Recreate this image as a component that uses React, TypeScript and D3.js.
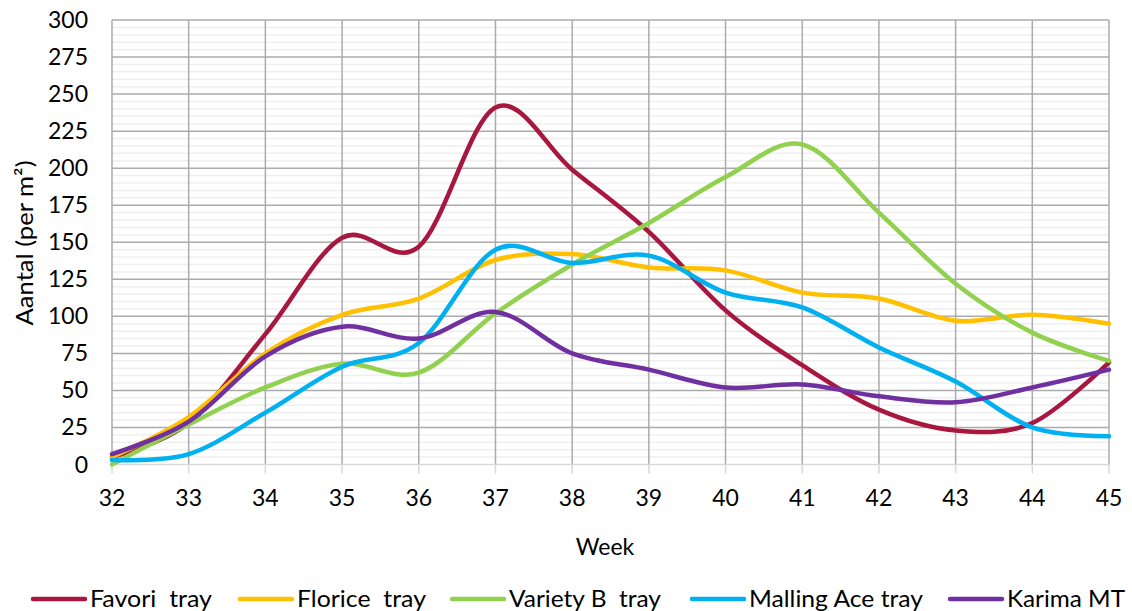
import React from "react";
import * as d3 from "d3";

const weeks = [32, 33, 34, 35, 36, 37, 38, 39, 40, 41, 42, 43, 44, 45];
const favori = [5, 28, 88, 153, 147, 241, 199, 157, 104, 67, 37, 23, 28, 69];
const florice = [5, 32, 75, 101, 112, 138, 142, 133, 131, 116, 112, 97, 101, 95];
const varietyB = [0, 27, 52, 68, 62, 102, 135, 163, 194, 216, 170, 122, 89, 70];
const mallingAce = [3, 7, 35, 66, 82, 145, 136, 141, 116, 106, 79, 56, 25, 19];
const karima = [7, 29, 73, 93, 85, 103, 75, 64, 52, 54, 46, 42, 52, 64];
const yTicks = [0, 25, 50, 75, 100, 125, 150, 175, 200, 225, 250, 275, 300];

const seriesNames = ["Favori  tray", "Florice  tray", "Variety B  tray", "Malling Ace tray", "Karima MT"];
const seriesColors = ["#A8173F", "#FFC000", "#92D050", "#00B0F0", "#7030A0"];
const seriesValues = [favori, florice, varietyB, mallingAce, karima];

const W = 1132;
const H = 611;
const FONT = "Lato, 'Open Sans', sans-serif";

export default function App() {
  const x = d3.scaleLinear().domain([32, 45]).range([112, 1109]);
  const y = d3.scaleLinear().domain([0, 300]).range([464.5, 20]);
  const minor = d3.range(0, 301, 5).filter((v) => v % 25 !== 0);

  const line = d3
    .line<number>()
    .x((_, i) => x(weeks[i]))
    .y((d) => y(d))
    .curve(d3.curveCardinal.tension(0));

  const legendLineX = [31, 238, 450, 690, 948];
  const legendTextW = [122, 129, 152, 174, 118];

  return (
    <svg width={W} height={H} style={{ position: "absolute", left: 0, top: 0, background: "#fff" }}>
      <rect x={0} y={0} width={W} height={H} fill="#fff" />
      {minor.map((v) => (
        <line key={"m" + v} x1={x(32)} x2={x(45)} y1={y(v)} y2={y(v)} stroke="#efefef" strokeWidth={1.5} />
      ))}
      {yTicks.filter((v) => v > 0).map((v) => (
        <line key={"g" + v} x1={x(32)} x2={x(45)} y1={y(v)} y2={y(v)} stroke="#ababab" strokeWidth={1.5} />
      ))}
      {weeks.map((w) => (
        <line key={"v" + w} x1={x(w)} x2={x(w)} y1={y(300)} y2={y(0)} stroke="#ababab" strokeWidth={1.5} />
      ))}
      {weeks.map((w) => (
        <line key={"t" + w} x1={x(w)} x2={x(w)} y1={y(0)} y2={y(0) + 9} stroke="#d9d9d9" strokeWidth={1.5} />
      ))}
      <line x1={x(32)} x2={x(45)} y1={y(0)} y2={y(0)} stroke="#d9d9d9" strokeWidth={1.5} />
      {yTicks.map((v) => (
        <text key={"yl" + v} x={88} y={y(v) + 8} textAnchor="end" fontFamily={FONT} fontSize={23} fill="#000">
          {v}
        </text>
      ))}
      {weeks.map((w) => (
        <text key={"xl" + w} x={x(w)} y={506} textAnchor="middle" fontFamily={FONT} fontSize={23} fill="#000">
          {w}
        </text>
      ))}
      <text x={605} y={555} textAnchor="middle" fontFamily={FONT} fontSize={23} fill="#000">
        Week
      </text>
      <text
        transform={`translate(33,243) rotate(-90)`}
        textAnchor="middle"
        fontFamily={FONT}
        fontSize={23}
        fill="#000"
        textLength={165}
        lengthAdjust="spacingAndGlyphs"
      >
        Aantal (per m²)
      </text>
      {seriesValues.map((vals, i) => (
        <path
          key={"s" + i}
          d={line(vals) || ""}
          fill="none"
          stroke={seriesColors[i]}
          strokeWidth={4.5}
          strokeLinejoin="round"
          strokeLinecap="round"
        />
      ))}
      {seriesNames.map((n, i) => (
        <g key={"lg" + i}>
          <line
            x1={legendLineX[i] + 2}
            x2={legendLineX[i] + 54}
            y1={599}
            y2={599}
            stroke={seriesColors[i]}
            strokeWidth={4.5}
            strokeLinecap="round"
          />
          <text
            x={legendLineX[i] + 59}
            y={607}
            fontFamily={FONT}
            fontSize={23}
            fill="#000"
            textLength={legendTextW[i]}
            lengthAdjust="spacingAndGlyphs"
            style={{ whiteSpace: "pre" }}
          >
            {n}
          </text>
        </g>
      ))}
    </svg>
  );
}
